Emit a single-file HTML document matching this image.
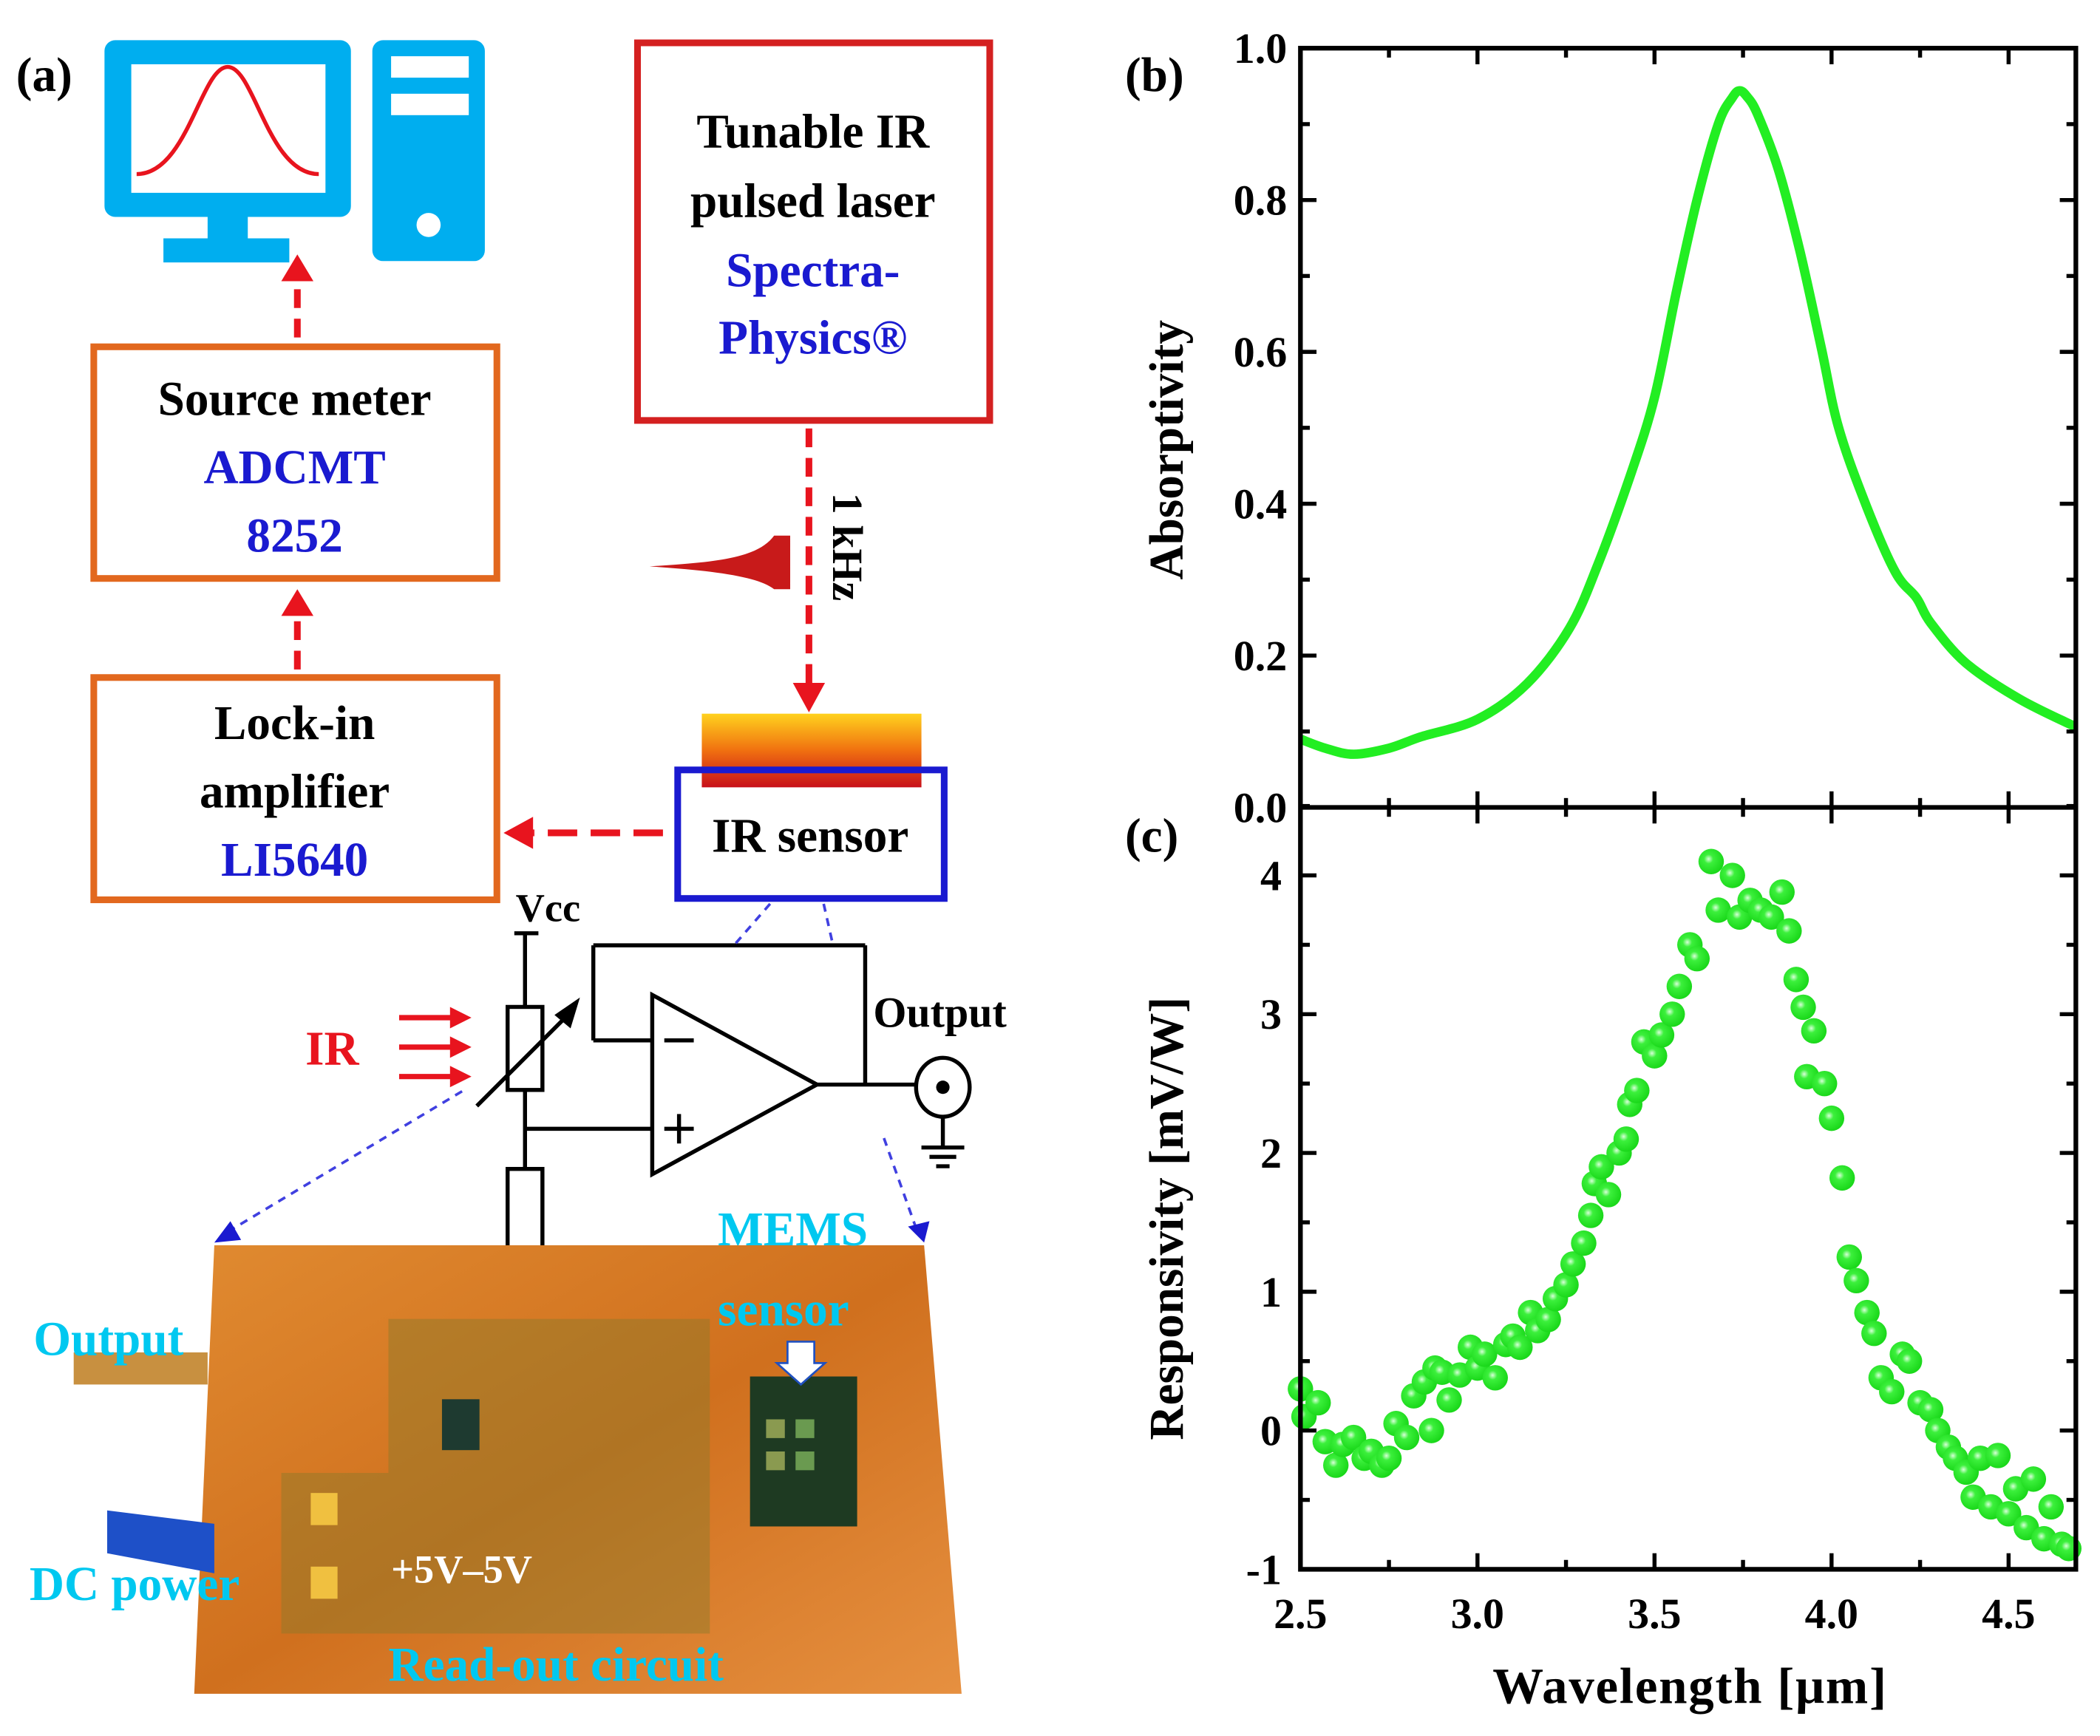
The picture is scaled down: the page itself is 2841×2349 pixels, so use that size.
<!DOCTYPE html>
<html><head><meta charset="utf-8"><style>
html,body{margin:0;padding:0;background:#fff}
svg{display:block}
text{font-family:"Liberation Serif",serif;font-weight:bold}
</style></head><body>
<svg id="fig" width="2841" height="2349" viewBox="0 0 1568 1296.5" xmlns="http://www.w3.org/2000/svg">
<defs>
<linearGradient id="heat" x1="0" y1="0" x2="0" y2="1"><stop offset="0" stop-color="#ffd21e"/><stop offset="0.5" stop-color="#f07010"/><stop offset="1" stop-color="#c8101a"/></linearGradient>
<linearGradient id="pcb" x1="0" y1="0" x2="1" y2="1"><stop offset="0" stop-color="#e08a30"/><stop offset="0.5" stop-color="#d0701e"/><stop offset="1" stop-color="#e69040"/></linearGradient>
<radialGradient id="dot" cx="0.4" cy="0.4" r="0.6"><stop offset="0" stop-color="#d8ffd8"/><stop offset="0.3" stop-color="#3cf03c"/><stop offset="1" stop-color="#1ad81a"/></radialGradient>
</defs>

<g>
<text x="12" y="68" font-size="36">(a)</text>
<g fill="#00aeef">
<rect x="78" y="30" width="184" height="132" rx="8"/>
<rect x="98" y="48" width="145" height="96" fill="#fff"/>
<rect x="155" y="160" width="30" height="20"/>
<rect x="122" y="178" width="94" height="18"/>
<path d="M102,130 C140,130 150,50 170,50 C190,50 200,130 238,130" fill="none" stroke="#e8141e" stroke-width="3"/>
</g>
<g>
<rect x="278" y="30" width="84" height="165" rx="8" fill="#00aeef"/>
<rect x="292" y="42" width="58" height="16" fill="#fff"/>
<rect x="292" y="70" width="58" height="16" fill="#fff"/>
<circle cx="320" cy="168" r="9" fill="#fff"/>
</g>
<line x1="222" y1="252" x2="222" y2="202" stroke="#e8141e" stroke-width="5" stroke-dasharray="14,8"/>
<path d="M210,210 L222,190 L234,210z" fill="#e8141e"/>
<rect x="70" y="259" width="301" height="173" fill="none" stroke="#e2681e" stroke-width="5"/>
<g font-size="36" text-anchor="middle">
<text x="220" y="310">Source meter</text>
<text x="220" y="361" fill="#1a1ad0">ADCMT</text>
<text x="220" y="412" fill="#1a1ad0">8252</text>
</g>
<line x1="222" y1="500" x2="222" y2="455" stroke="#e8141e" stroke-width="5" stroke-dasharray="14,8"/>
<path d="M210,460 L222,440 L234,460z" fill="#e8141e"/>
<rect x="70" y="506" width="301" height="166" fill="none" stroke="#e2681e" stroke-width="5"/>
<g font-size="36" text-anchor="middle">
<text x="220" y="552">Lock-in</text>
<text x="220" y="603">amplifier</text>
<text x="220" y="654" fill="#1a1ad0">LI5640</text>
</g>
<rect x="476" y="32" width="263" height="282" fill="none" stroke="#d42020" stroke-width="5"/>
<g font-size="36" text-anchor="middle">
<text x="607" y="110">Tunable IR</text>
<text x="607" y="162">pulsed laser</text>
<text x="607" y="214" fill="#1a1ad0">Spectra-</text>
<text x="607" y="264" fill="#1a1ad0">Physics®</text>
</g>
<line x1="604" y1="320" x2="604" y2="512" stroke="#e8141e" stroke-width="5" stroke-dasharray="14,8"/>
<path d="M592,510 L604,532 L616,510z" fill="#e8141e"/>
<text x="0" y="0" font-size="32" transform="translate(622,368) rotate(90)">1 kHz</text>
<path d="M485,423 C530,420 565,418 578,400 L590,400 L590,440 L578,440 C565,430 530,426 485,423z" fill="#c81a1a"/>
<rect x="524" y="533" width="164" height="55" fill="url(#heat)"/>
<rect x="506" y="575" width="199" height="96" fill="none" stroke="#1a1ad0" stroke-width="5"/>
<text x="605" y="636" font-size="36" text-anchor="middle">IR sensor</text>
<line x1="495" y1="622" x2="398" y2="622" stroke="#e8141e" stroke-width="5" stroke-dasharray="22,10"/>
<path d="M398,610 L376,622 L398,634z" fill="#e8141e"/>

<g stroke="#000" stroke-width="3" fill="none">
<line x1="384" y1="697" x2="402" y2="697"/>
<line x1="392" y1="697" x2="392" y2="752"/>
<rect x="379" y="752" width="26" height="62" fill="#fff"/>
<line x1="392" y1="814" x2="392" y2="873"/>
<line x1="392" y1="843" x2="487" y2="843"/>
<rect x="379" y="873" width="26" height="62" fill="#fff"/>
<line x1="392" y1="935" x2="392" y2="962"/>
<line x1="372" y1="962" x2="412" y2="962"/>
<line x1="380" y1="969" x2="404" y2="969"/>
<line x1="386" y1="976" x2="398" y2="976"/>
<line x1="356" y1="826" x2="424" y2="758"/>
<path d="M433,745 L414,758 L426,768z" fill="#000" stroke="none"/>
<path d="M487,743 L487,877 L610,810z"/>
<line x1="443" y1="777" x2="487" y2="777"/>
<line x1="443" y1="777" x2="443" y2="706"/>
<line x1="443" y1="706" x2="646" y2="706"/>
<line x1="646" y1="706" x2="646" y2="810"/>
<line x1="610" y1="810" x2="684" y2="810"/>
<line x1="496" y1="777" x2="518" y2="777"/>
<line x1="496" y1="843" x2="518" y2="843"/><line x1="507" y1="832" x2="507" y2="854"/>
<ellipse cx="704" cy="812" rx="20" ry="22"/>
<line x1="704" y1="834" x2="704" y2="857"/>
<line x1="688" y1="857" x2="720" y2="857"/>
<line x1="694" y1="864" x2="714" y2="864"/>
<line x1="699" y1="871" x2="709" y2="871"/>
</g>
<circle cx="704" cy="812" r="5" fill="#000"/>
<text x="385" y="688" font-size="30">Vcc</text>
<text x="652" y="767" font-size="32">Output</text>
<text x="228" y="795" font-size="36" fill="#e8141e">IR</text>
<g stroke="#e8141e" stroke-width="4">
<line x1="298" y1="760" x2="338" y2="760"/><line x1="298" y1="782" x2="338" y2="782"/><line x1="298" y1="804" x2="338" y2="804"/>
</g>
<g fill="#e8141e"><path d="M336,752 L352,760 L336,768z"/><path d="M336,774 L352,782 L336,790z"/><path d="M336,796 L352,804 L336,812z"/></g>
<g stroke="#4040e0" stroke-width="2" stroke-dasharray="6,5" fill="none">
<line x1="345" y1="815" x2="170" y2="920"/><line x1="575" y1="675" x2="548" y2="706"/>
<line x1="615" y1="675" x2="622" y2="706"/><line x1="660" y1="850" x2="685" y2="920"/>
</g>
<path d="M160,928 L172,912 L180,926z" fill="#1a1ad0"/><path d="M678,916 L694,912 L690,928z" fill="#1a1ad0"/>

<g>
<path d="M160,930 L690,930 L718,1265 L145,1265z" fill="url(#pcb)"/>
<path d="M290,985 L530,985 L530,1220 L210,1220 L210,1100 L290,1100z" fill="#8a7a2a" opacity="0.45"/>
<rect x="560" y="1028" width="80" height="112" fill="#1e3a22"/>
<rect x="572" y="1060" width="14" height="14" fill="#8a9a50"/><rect x="594" y="1060" width="14" height="14" fill="#6a9a50"/>
<rect x="572" y="1084" width="14" height="14" fill="#8a9a50"/><rect x="594" y="1084" width="14" height="14" fill="#6a9a50"/>
<rect x="330" y="1045" width="28" height="38" fill="#1e3a30"/>
<path d="M80,1128 L160,1138 L160,1175 L80,1160z" fill="#1e50c8"/>
<rect x="55" y="1010" width="100" height="24" fill="#c89040"/>
<rect x="232" y="1115" width="20" height="24" fill="#f0c040"/><rect x="232" y="1170" width="20" height="24" fill="#f0c040"/>
<path d="M588,1002 L608,1002 L608,1018 L616,1018 L598,1034 L580,1018 L588,1018z" fill="#fff" stroke="#2050c0" stroke-width="1.5"/>
</g>
<g font-size="36" fill="#00c8f0">
<text x="25" y="1012">Output</text>
<text x="22" y="1195">DC power</text>
<text x="536" y="930">MEMS</text>
<text x="536" y="990">sensor</text>
<text x="290" y="1255">Read-out circuit</text>
</g>
<text x="292" y="1182" font-size="30" fill="#fff">+5V–5V</text>
</g>

<g id="charts"></g>
</svg>
<script>
var absWl = [2.5,2.57,2.65,2.75,2.84,3.0,3.14,3.26,3.34,3.43,3.5,3.56,3.62,3.68,3.72,3.74,3.76,3.79,3.85,3.91,3.97,4.02,4.1,4.18,4.24,4.28,4.38,4.53,4.69];
var absVal = [0.09,0.078,0.07,0.078,0.093,0.116,0.163,0.236,0.32,0.435,0.54,0.675,0.80,0.90,0.935,0.944,0.937,0.914,0.84,0.734,0.608,0.50,0.395,0.31,0.276,0.243,0.19,0.143,0.106];
var resWl = [2.5,2.51,2.55,2.57,2.6,2.62,2.65,2.68,2.7,2.73,2.75,2.77,2.8,2.82,2.85,2.87,2.88,2.9,2.92,2.95,2.98,3.0,3.02,3.05,3.08,3.1,3.12,3.15,3.17,3.2,3.22,3.25,3.27,3.3,3.32,3.33,3.35,3.37,3.4,3.42,3.43,3.45,3.47,3.5,3.52,3.55,3.57,3.6,3.62,3.66,3.68,3.72,3.74,3.77,3.8,3.83,3.86,3.88,3.9,3.92,3.95,3.93,3.98,4.0,4.03,4.05,4.07,4.1,4.12,4.14,4.17,4.2,4.22,4.25,4.28,4.3,4.33,4.35,4.38,4.4,4.42,4.45,4.47,4.5,4.52,4.55,4.57,4.6,4.62,4.65,4.67];
var resVal = [0.3,0.1,0.2,-0.08,-0.25,-0.1,-0.05,-0.2,-0.15,-0.25,-0.2,0.05,-0.05,0.25,0.35,0.0,0.45,0.42,0.22,0.4,0.6,0.45,0.55,0.38,0.62,0.68,0.6,0.85,0.72,0.8,0.95,1.05,1.2,1.35,1.55,1.78,1.9,1.7,2.0,2.1,2.35,2.45,2.8,2.7,2.85,3.0,3.2,3.5,3.4,4.1,3.75,4.0,3.7,3.82,3.75,3.7,3.88,3.6,3.25,3.05,2.88,2.55,2.5,2.25,1.82,1.25,1.08,0.85,0.7,0.38,0.28,0.55,0.5,0.2,0.15,0.0,-0.12,-0.2,-0.3,-0.48,-0.2,-0.55,-0.18,-0.6,-0.42,-0.7,-0.35,-0.78,-0.55,-0.82,-0.85];
var xTicks = [2.5,3.0,3.5,4.0,4.5];
var absTicks = [0.0,0.2,0.4,0.6,0.8,1.0];
var resTicks = [-1,0,1,2,3,4];

var NS='http://www.w3.org/2000/svg';
var g=document.getElementById('charts');
var L=971,R=1550,T=36,M=603,B=1172, XMIN=2.5, XMAX=4.69;
function sx(v){return L+(v-XMIN)/(XMAX-XMIN)*(R-L);}
function syA(v){return M-(v-0)/(1-0)*(M-T);}
function syR(v){return B-(v+1)/(4.49+1)*(B-M);}
function mk(tag,at,txt){var e=document.createElementNS(NS,tag);for(var k in at)e.setAttribute(k,at[k]);if(txt!=null)e.textContent=txt;g.appendChild(e);return e;}

// smooth absorptivity curve (Catmull-Rom through data points)
var P=[];for(var i=0;i<absWl.length;i++)P.push([sx(absWl[i]),syA(absVal[i])]);
var d='M'+P[0][0].toFixed(1)+','+P[0][1].toFixed(1);
for(var i=0;i<P.length-1;i++){
  var p0=P[Math.max(i-1,0)],p1=P[i],p2=P[i+1],p3=P[Math.min(i+2,P.length-1)];
  var c1x=p1[0]+(p2[0]-p0[0])/6,c1y=p1[1]+(p2[1]-p0[1])/6,c2x=p2[0]-(p3[0]-p1[0])/6,c2y=p2[1]-(p3[1]-p1[1])/6;
  d+='C'+c1x.toFixed(1)+','+c1y.toFixed(1)+' '+c2x.toFixed(1)+','+c2y.toFixed(1)+' '+p2[0].toFixed(1)+','+p2[1].toFixed(1);
}
var ln=mk('path',{d:d,fill:'none',stroke:'#22ee22','stroke-width':7,'stroke-linejoin':'round'});


for(var j=0;j<resWl.length;j++){
  var c=mk('circle',{cx:sx(resWl[j]),cy:syR(resVal[j]),r:9.5,fill:'url(#dot)'});
  
  
}
var fr=mk('path',{d:'M'+L+','+T+'H'+R+'V'+B+'H'+L+'Z M'+L+','+M+'H'+R,fill:'none',stroke:'#000','stroke-width':3.5});


for(var a=0;a<xTicks.length;a++){
  var x=sx(xTicks[a]);
  [T,M,B].forEach(function(yy,idx){
    if(idx<2) mk('line',{x1:x,x2:x,y1:yy,y2:yy+12,stroke:'#000','stroke-width':3});
    if(idx>0) mk('line',{x1:x,x2:x,y1:yy,y2:yy-12,stroke:'#000','stroke-width':3});
  });
  var xm=sx(xTicks[a]+0.25);
  if(xTicks[a]+0.25<XMAX){[T,M].forEach(function(yy){mk('line',{x1:xm,x2:xm,y1:yy,y2:yy+7,stroke:'#000','stroke-width':3});});
   [M,B].forEach(function(yy){mk('line',{x1:xm,x2:xm,y1:yy,y2:yy-7,stroke:'#000','stroke-width':3});});}
  var t=mk('text',{x:x,y:B+44,'font-size':32,'text-anchor':'middle'},xTicks[a].toFixed(1));
  
  
}
for(var b=0;b<absTicks.length;b++){
  var y=syA(absTicks[b]);
  mk('line',{x1:L,x2:L+12,y1:y,y2:y,stroke:'#000','stroke-width':3});
  mk('line',{x1:R,x2:R-12,y1:y,y2:y,stroke:'#000','stroke-width':3});
  if(b<absTicks.length-1){var ym=syA(absTicks[b]+0.1);mk('line',{x1:L,x2:L+7,y1:ym,y2:ym,stroke:'#000','stroke-width':3});mk('line',{x1:R,x2:R-7,y1:ym,y2:ym,stroke:'#000','stroke-width':3});}
  var t2=mk('text',{x:L-10,y:y+11,'font-size':32,'text-anchor':'end'},absTicks[b].toFixed(1));
  
  
}
for(var c2=0;c2<resTicks.length;c2++){
  var y2=syR(resTicks[c2]);
  mk('line',{x1:L,x2:L+12,y1:y2,y2:y2,stroke:'#000','stroke-width':3});
  mk('line',{x1:R,x2:R-12,y1:y2,y2:y2,stroke:'#000','stroke-width':3});
  var ym2=syR(resTicks[c2]+0.5);mk('line',{x1:L,x2:L+7,y1:ym2,y2:ym2,stroke:'#000','stroke-width':3});mk('line',{x1:R,x2:R-7,y1:ym2,y2:ym2,stroke:'#000','stroke-width':3});
  var t3=mk('text',{x:L-14,y:y2+11,'font-size':32,'text-anchor':'end'},String(resTicks[c2]));
  
  
}
var lb=mk('text',{x:840,y:68,'font-size':36},'(b)');


var lc=mk('text',{x:840,y:636,'font-size':36},'(c)');


var ya=mk('text',{x:0,y:0,'font-size':36,'text-anchor':'middle',transform:'translate(883,336) rotate(-90)'},'Absorptivity');


var yr=mk('text',{x:0,y:0,'font-size':36,'text-anchor':'middle',transform:'translate(883,910) rotate(-90)'},'Responsivity [mV/W]');


var xt=mk('text',{x:1262,y:1272,'font-size':38,'text-anchor':'middle','letter-spacing':'1'},'Wavelength [μm]');


</script>
</body></html>
